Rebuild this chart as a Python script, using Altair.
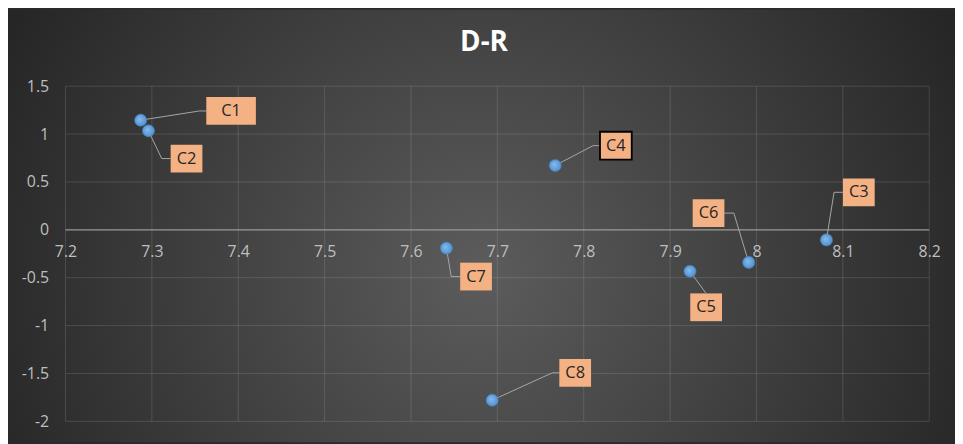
import altair as alt
import pandas as pd

# ---- data ----
labels = ["C1", "C2", "C3", "C4", "C5", "C6", "C7", "C8"]
x_vals = [7.287, 7.296, 8.081, 7.767, 7.923, 7.991, 7.641, 7.694]
y_vals = [1.145, 1.034, -0.105, 0.672, -0.433, -0.340, -0.191, -1.779]

# data-label placement (box centres, leader elbows and attach points)
label_x = [7.3917, 7.3401, 8.1185, 7.8372, 7.9417, 7.9445, 7.6753, 7.7901]
label_y = [1.241, 0.744, 0.392, 0.879, -0.809, 0.175, -0.488, -1.493]
elbow_x = [7.355, 7.3114, 8.0898, 7.8108, 7.9417, 7.9738, 7.6466, 7.7637]
elbow_y = [1.241, 0.744, 0.392, 0.879, -0.664, 0.175, -0.488, -1.493]
attach_x = [7.363, 7.3217, 8.1001, 7.8188, 7.9417, 7.9629, 7.6569, 7.7717]
attach_y = [1.241, 0.744, 0.392, 0.879, -0.664, 0.175, -0.488, -1.493]

x_ticks = [7.2, 7.3, 7.4, 7.5, 7.6, 7.7, 7.8, 7.9, 8.0, 8.1, 8.2]
y_ticks = [-2, -1.5, -1, -0.5, 0, 0.5, 1, 1.5]
title_text = "D-R"

W, H = 871, 338
PAD = {"left": 58, "top": 77, "right": 26, "bottom": 21}
FONT = "Open Sans"

pts = pd.DataFrame({"label": labels, "x": x_vals, "y": y_vals,
                    "lx": label_x, "ly": label_y})

rows = []
for i, lab in enumerate(labels):
    rows.append({"label": lab, "o": 0, "x": x_vals[i], "y": y_vals[i]})
    rows.append({"label": lab, "o": 1, "x": elbow_x[i], "y": elbow_y[i]})
    rows.append({"label": lab, "o": 2, "x": attach_x[i], "y": attach_y[i]})
leaders = pd.DataFrame(rows)

xs = alt.Scale(domain=[7.2, 8.2], nice=False, zero=False)
ys = alt.Scale(domain=[-2, 1.5], nice=False, zero=False)

axis_common = dict(domain=False, ticks=False, grid=False, title=None,
                   labelColor="#BFBFBF", labelFont=FONT, labelFontSize=16,
                   labelExpr="datum.value + ''", zindex=1, labelOverlap=False)
x_axis = alt.Axis(values=x_ticks, offset=-193.14, labelPadding=14,
                  labelFlush=False, **axis_common)
y_axis = alt.Axis(values=y_ticks, labelPadding=17, **axis_common)


def X(field):
    return alt.X(field, type="quantitative", scale=xs, axis=x_axis)


def Y(field):
    return alt.Y(field, type="quantitative", scale=ys, axis=y_axis)


bg_grad = {
    "gradient": "radial",
    "x1": 0.5, "y1": 0.55, "r1": 0,
    "x2": 0.5, "y2": 0.55, "r2": 0.56,
    "stops": [{"offset": 0, "color": "#5c5c5c"},
              {"offset": 1, "color": "#262626"}],
}
pt_grad = {
    "gradient": "radial",
    "x1": 0.4, "y1": 0.4, "r1": 0,
    "x2": 0.5, "y2": 0.5, "r2": 0.6,
    "stops": [{"offset": 0, "color": "#86bbec"},
              {"offset": 1, "color": "#4a8bcb"}],
}

bg = alt.Chart(alt.Data(values=[{"a": 1}])).mark_rect(fill=bg_grad).encode(
    x=alt.value(-PAD["left"]), x2=alt.value(W + PAD["right"]),
    y=alt.value(-PAD["top"]), y2=alt.value(H + PAD["bottom"]),
)

title = alt.Chart(alt.Data(values=[{"t": title_text}])).mark_text(
    font=FONT, fontSize=28, fontWeight="bold", color="#ffffff",
    align="center", baseline="middle"
).encode(x=alt.value(422), y=alt.value(-43), text="t:N")

xgrid = alt.Chart(pd.DataFrame({"v": x_ticks})).mark_rule(
    color="white", opacity=0.13, strokeWidth=1
).encode(x=X("v"))

ygrid = alt.Chart(pd.DataFrame({"v": [t for t in y_ticks if t != 0]})).mark_rule(
    color="white", opacity=0.13, strokeWidth=1
).encode(y=Y("v"))

zero = alt.Chart(pd.DataFrame({"v": [0]})).mark_rule(
    color="#9a9a9a", strokeWidth=1.2
).encode(y=Y("v"))

lead = alt.Chart(leaders).mark_line(color="#a6a6a6", strokeWidth=1).encode(
    x=X("x"), y=Y("y"), detail="label:N", order="o:O",
)

points = alt.Chart(pts).mark_point(
    filled=True, shape="circle", size=150, fill=pt_grad, opacity=1,
    stroke="#3f7fbf", strokeWidth=0.6
).encode(x=X("x"), y=Y("y"))

normal_shape = "M-1,-0.875H1V0.875H-1Z"
wide_shape = "M-1,-0.56H1V0.56H-1Z"

box_normal = alt.Chart(pts).transform_filter(
    "datum.label != 'C1' && datum.label != 'C4'"
).mark_point(filled=True, shape=normal_shape, size=1024, fill="#F4B183",
             opacity=1, strokeWidth=0).encode(x=X("lx"), y=Y("ly"))

box_wide = alt.Chart(pts).transform_filter("datum.label == 'C1'").mark_point(
    filled=True, shape=wide_shape, size=2500, fill="#F4B183", opacity=1,
    strokeWidth=0).encode(x=X("lx"), y=Y("ly"))

box_sel = alt.Chart(pts).transform_filter("datum.label == 'C4'").mark_point(
    filled=True, shape=normal_shape, size=1024, fill="#F4B183", opacity=1,
    stroke="#000000", strokeWidth=1.8).encode(x=X("lx"), y=Y("ly"))

texts = alt.Chart(pts).mark_text(
    font=FONT, fontSize=16.5, color="#262626", align="center", baseline="middle"
).encode(x=X("lx"), y=Y("ly"), text="label:N")

chart = alt.layer(
    bg, title, xgrid, ygrid, zero, lead, points, box_normal, box_wide, box_sel, texts
).properties(
    width=W, height=H, padding=PAD, autosize="none",
).configure(background="#2a2a2a").configure_view(stroke=None)

chart.save("out.html", embed_options={"renderer": "svg", "actions": False})
